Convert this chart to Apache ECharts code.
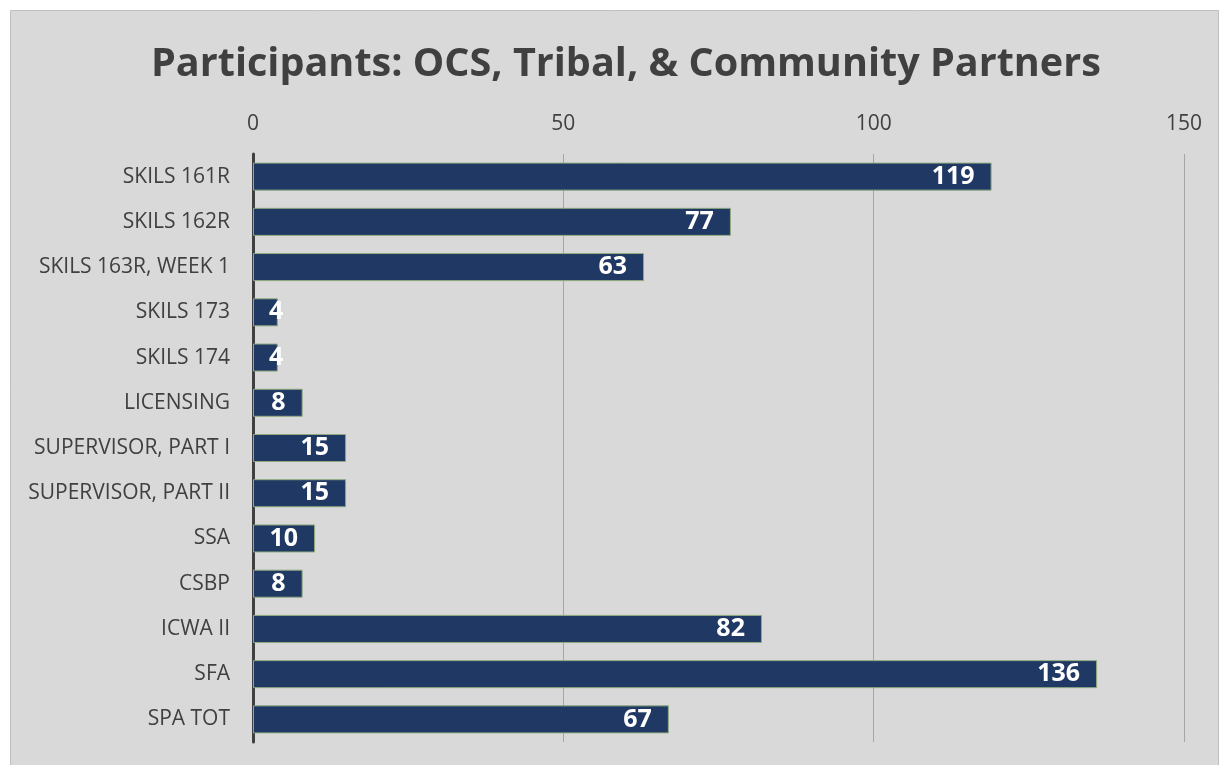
<!DOCTYPE html>
<html>
<head>
<meta charset="utf-8">
<script src="https://cdn.jsdelivr.net/npm/echarts@6/dist/echarts.min.js"></script>
<style>
  html, body { margin: 0; padding: 0; background: #ffffff; }
  #chart { width: 1221px; height: 765px; }
</style>
</head>
<body>
<div id="chart"></div>
<script>
// Training sessions and their participant counts
const categories = [
  'SKILS 161R', 'SKILS 162R', 'SKILS 163R, WEEK 1', 'SKILS 173', 'SKILS 174',
  'LICENSING', 'SUPERVISOR, PART I', 'SUPERVISOR, PART II', 'SSA', 'CSBP',
  'ICWA II', 'SFA', 'SPA TOT'
];
const participants = [119, 77, 63, 4, 4, 8, 15, 15, 10, 8, 82, 136, 67];
const axisTicks = { min: 0, max: 150, interval: 50 };

const chart = echarts.init(document.getElementById('chart'), null, { renderer: 'canvas' });

// Very short bars get their value label anchored from the left edge instead
const barData = participants.map(v => ({
  value: v,
  label: v < 6
    ? { position: 'insideLeft', distance: 16 }
    : { position: 'insideRight', distance: 17 }
}));

chart.setOption({
  animation: false,
  textStyle: { fontFamily: 'Open Sans' },
  graphic: [{
    type: 'rect',
    z: -10,
    shape: { x: 10.5, y: 10.5, width: 1208, height: 770 },
    style: { fill: '#d9d9d9', stroke: '#bfbfbf', lineWidth: 1 }
  }],
  title: {
    text: 'Participants: OCS, Tribal, & Community Partners',
    left: 146,
    top: 40,
    textStyle: { fontFamily: 'Open Sans', fontWeight: 'bold', fontSize: 39.6, color: '#404040' }
  },
  grid: { left: 253, right: 37, top: 154, bottom: 23, containLabel: false },
  xAxis: {
    type: 'value',
    position: 'top',
    min: axisTicks.min,
    max: axisTicks.max,
    interval: axisTicks.interval,
    axisLine: { show: false },
    axisTick: { show: false },
    axisLabel: { color: '#404040', fontSize: 21, margin: 19 },
    splitLine: { show: true, lineStyle: { color: '#a6a6a6', width: 1 } }
  },
  yAxis: {
    type: 'category',
    data: categories,
    inverse: true,
    axisLine: { show: true, lineStyle: { color: '#404040', width: 3 } },
    axisTick: { show: false },
    axisLabel: { color: '#404040', fontSize: 21, margin: 23 }
  },
  series: [{
    type: 'bar',
    data: barData,
    barCategoryGap: '38%',
    itemStyle: { color: '#203864', borderColor: '#8faa7e', borderWidth: 1 },
    label: {
      show: true,
      color: '#ffffff',
      fontFamily: 'Open Sans',
      fontWeight: 'bold',
      fontSize: 25
    }
  }]
});
</script>
</body>
</html>
